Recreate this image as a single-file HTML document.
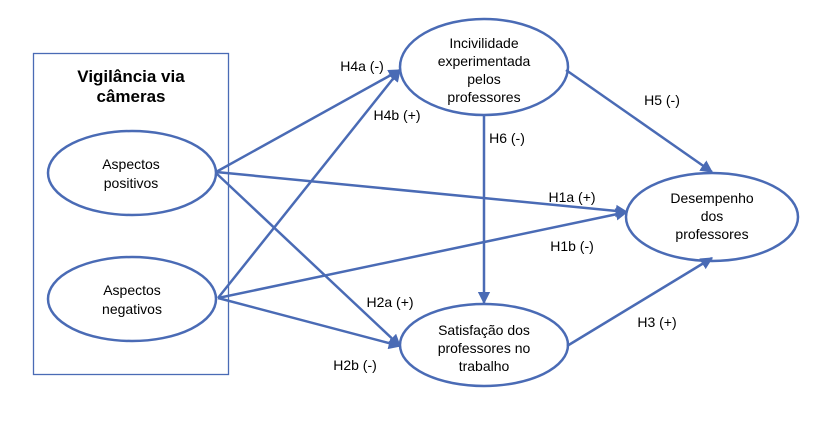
<!DOCTYPE html>
<html><head><meta charset="utf-8"><style>body{margin:0;background:#fff}</style></head><body>
<svg width="813" height="431" viewBox="0 0 813 431" xmlns="http://www.w3.org/2000/svg" font-family="Liberation Sans, sans-serif">
<defs><marker id="a" viewBox="0 0 10 10" refX="9" refY="5" markerWidth="5" markerHeight="5" orient="auto"><path d="M0,0L10,5L0,10z" fill="#4a6bb5"/></marker></defs>
<rect x="33.5" y="53.5" width="195" height="321" fill="none" stroke="#4a6bb5" stroke-width="1.3"/>
<g stroke="#4a6bb5" stroke-width="2.5" fill="none">
<ellipse cx="132" cy="173" rx="84" ry="42"/>
<ellipse cx="132" cy="299" rx="84" ry="42"/>
<ellipse cx="484" cy="67" rx="84" ry="48"/>
<ellipse cx="484" cy="345" rx="84" ry="41"/>
<ellipse cx="712" cy="217" rx="86" ry="44"/>
<g marker-end="url(#a)">
<line x1="216" y1="172" x2="400" y2="70"/>
<line x1="218" y1="298" x2="400" y2="70"/>
<line x1="216" y1="172" x2="627" y2="212"/>
<line x1="218" y1="298" x2="627" y2="212"/>
<line x1="216" y1="173" x2="400" y2="346"/>
<line x1="218" y1="298" x2="400" y2="346"/>
<line x1="484" y1="115" x2="484" y2="303"/>
<line x1="566" y1="70" x2="712" y2="172"/>
<line x1="567" y1="346" x2="712" y2="258"/>
</g></g>
<g font-size="14" fill="#000" text-anchor="middle">
<text x="131" y="82" font-weight="bold" font-size="17">Vigilância via</text>
<text x="131" y="102" font-weight="bold" font-size="17">câmeras</text>
<text x="131" y="169">Aspectos</text><text x="131" y="188">positivos</text>
<text x="132" y="295">Aspectos</text><text x="132" y="314">negativos</text>
<text x="484" y="48">Incivilidade</text><text x="484" y="66">experimentada</text><text x="484" y="84">pelos</text><text x="484" y="102">professores</text>
<text x="484" y="335">Satisfação dos</text><text x="484" y="353">professores no</text><text x="484" y="371">trabalho</text>
<text x="712" y="203">Desempenho</text><text x="712" y="221">dos</text><text x="712" y="239">professores</text>
<text x="362" y="71">H4a (-)</text>
<text x="397" y="120">H4b (+)</text>
<text x="507" y="143">H6 (-)</text>
<text x="662" y="105">H5 (-)</text>
<text x="572" y="202">H1a (+)</text>
<text x="572" y="251">H1b (-)</text>
<text x="390" y="307">H2a (+)</text>
<text x="355" y="370">H2b (-)</text>
<text x="657" y="327">H3 (+)</text>
</g>
</svg>
</body></html>
